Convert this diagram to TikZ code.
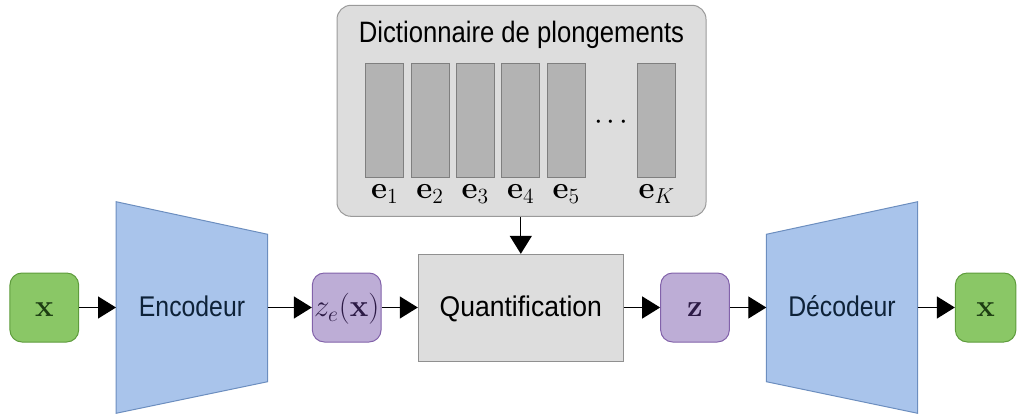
\RequirePackage{fix-cm}
\documentclass[tikz,border=0pt]{standalone}
\usepackage[no-math]{fontspec}
\usepackage{graphicx}
\setmainfont{Liberation Sans}[FakeStretch=0.87]
\usetikzlibrary{arrows.meta}
\definecolor{gfill}{HTML}{8AC766}
\definecolor{gdraw}{HTML}{5E9C3C}
\definecolor{gtext}{HTML}{1C3D12}
\definecolor{pfill}{HTML}{BDADD6}
\definecolor{pdraw}{HTML}{8262AA}
\definecolor{ptext}{HTML}{2C1A45}
\definecolor{bfill}{HTML}{A9C4EB}
\definecolor{bdraw}{HTML}{6C8EBF}
\definecolor{btext}{HTML}{0E2238}
\definecolor{kfill}{HTML}{DDDDDD}
\definecolor{kdraw}{HTML}{9A9A9A}
\definecolor{barfill}{HTML}{B3B3B3}
\definecolor{bardraw}{HTML}{7F7F7F}
\newcommand\mathbig[1]{\scalebox{1.5}{$#1$}}
\tikzset{
  arr/.style={line width=1.3pt,-{Triangle[length=18pt,width=22pt]}},
  rowtext/.style={text height=20pt,text depth=2.2pt,inner sep=0pt},
  smallbox/.style={rowtext,rounded corners=12pt,line width=1pt,minimum width=68.7pt,minimum height=69pt},
  greenbox/.style={smallbox,fill=gfill,draw=gdraw,text=gtext},
  purplebox/.style={smallbox,fill=pfill,draw=pdraw,text=ptext},
  bar/.style={fill=barfill,draw=bardraw,line width=1pt,minimum width=38pt,minimum height=114pt,inner sep=0pt},
  mathfont/.style={font=\fontsize{20.74}{22}\selectfont},
  elabel/.style={anchor=base,inner sep=0pt,mathfont},
  bigfont/.style={font=\fontsize{28.5}{30}\selectfont},
  trap/.style={fill=bfill,draw=bdraw,line width=1pt}
}
\begin{document}
\begin{tikzpicture}[x=1pt,y=-1pt]
\useasboundingbox (0,0) rectangle (1017,414);
% dictionary
\node[fill=kfill,draw=kdraw,line width=1pt,rounded corners=14pt,minimum width=369pt,minimum height=211pt,inner sep=0pt] (dict) at (521.5,110.8) {};
\node[anchor=base,inner sep=0pt,font=\fontsize{29.5}{30}\selectfont] (title) at (521.5,42.5) {Dictionnaire de plongements};
\node[bar] (e1) at (384.7,121) {};
\node[bar] (e2) at (430,121) {};
\node[bar] (e3) at (475.3,121) {};
\node[bar] (e4) at (520.7,121) {};
\node[bar] (e5) at (566.2,121) {};
\node[bar] (eK) at (656.7,121) {};
\node[elabel] (l1) at (384.7,199) {\mathbig{\mathbf{e}_1}};
\node[elabel] (l2) at (430,199) {\mathbig{\mathbf{e}_2}};
\node[elabel] (l3) at (475.3,199) {\mathbig{\mathbf{e}_3}};
\node[elabel] (l4) at (520.7,199) {\mathbig{\mathbf{e}_4}};
\node[elabel] (l5) at (566.2,199) {\mathbig{\mathbf{e}_5}};
\node[elabel] (lK) at (656.7,199) {\mathbig{\mathbf{e}_K}};
\node[inner sep=0pt,mathfont] (dots) at (611.3,122.7) {\mathbig{{\cdot}\mkern2mu{\cdot}\mkern2mu{\cdot}}};
% main row
\node[greenbox,mathfont] (xin) at (44.3,307.5) {\mathbig{\mathbf{x}}};
\path[trap] (116,201.7) -- (267.7,234.3) -- (267.7,381.7) -- (116,413.3) -- cycle;
\coordinate (encL) at (116,307.5);
\coordinate (encR) at (267.7,307.5);
\node[rowtext,bigfont,text=btext] (enc) at (192,307.5) {Encodeur};
\node[purplebox,mathfont] (ze) at (346.7,307.5) {\mathbig{z_e(\mathbf{x})}};
\node[rowtext,bigfont,fill=kfill,draw=kdraw!110,line width=1pt,minimum width=205pt,minimum height=106.7pt] (quant) at (520.8,307.7) {\scalebox{1.07}[1]{Quantification}};
\node[purplebox,mathfont] (z) at (695,307.5) {\mathbig{\mathbf{z}}};
\path[trap] (766.3,234.3) -- (917.7,201.7) -- (917.7,413.3) -- (766.3,381.7) -- cycle;
\coordinate (decL) at (766.3,307.5);
\coordinate (decR) at (917.7,307.5);
\node[rowtext,bigfont,text=btext] (dec) at (842,307.5) {Décodeur};
\node[greenbox,mathfont,minimum width=60.5pt] (xout) at (985.6,307.5) {\mathbig{\mathbf{x}}};
% arrows
\draw[arr] (xin.east) -- (encL);
\draw[arr] (encR) -- (ze.west);
\draw[arr] (ze.east) -- (quant.west |- ze.east);
\draw[arr] (quant.east |- z.west) -- (z.west);
\draw[arr] (z.east) -- (decL);
\draw[arr] (decR) -- (xout.west);
\draw[arr] (quant.north |- dict.south) -- (quant.north);
\end{tikzpicture}
\end{document}
